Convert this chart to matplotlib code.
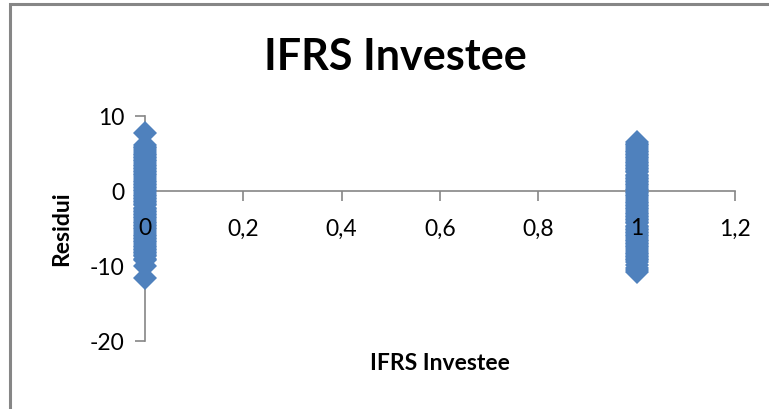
import matplotlib
matplotlib.use("Agg")
import matplotlib.pyplot as plt
from matplotlib.patches import Rectangle

# dati
ifrs_x = [0, 1]
res0 = [7.7, 6.1, 5.9, 5.7, 5.5, 5.2, 5.0, 4.8, 4.6, 4.4, 4.2, 4.0, 3.8, 3.5,
        3.3, 3.1, 2.9, 2.7, 2.5, 2.3, 2.1, 1.9, 1.6, 1.4, 1.2, 1.0, 0.8, 0.6,
        0.4, 0.2, 0.0, -0.3, -0.5, -0.7, -0.9, -1.1, -1.3, -1.5, -1.7, -1.9,
        -2.2, -2.4, -2.6, -2.8, -3.0, -3.2, -3.4, -3.6, -3.9, -4.1, -4.3,
        -4.5, -4.7, -4.9, -5.1, -5.3, -5.6, -5.8, -6.0, -6.2, -6.4, -6.6,
        -6.8, -7.0, -7.3, -7.5, -7.7, -7.9, -8.1, -8.3, -8.5, -8.7, -9.0,
        -9.2, -10.0, -11.6]
res1 = [6.5, 6.3, 6.1, 5.9, 5.6, 5.4, 5.2, 5.0, 4.8, 4.6, 4.4, 4.2, 3.9, 3.7,
        3.5, 3.3, 3.1, 2.9, 2.7, 2.5, 2.2, 2.0, 1.8, 1.6, 1.4, 1.2, 1.0, 0.8,
        0.5, 0.3, 0.1, -0.1, -0.3, -0.5, -0.7, -0.9, -1.2, -1.4, -1.6, -1.8,
        -2.0, -2.2, -2.4, -2.6, -2.9, -3.1, -3.3, -3.5, -3.7, -3.9, -4.1,
        -4.3, -4.6, -4.8, -5.0, -5.2, -5.4, -5.6, -5.8, -6.0, -6.3, -6.5,
        -6.7, -6.9, -7.1, -7.3, -7.5, -7.7, -8.0, -8.2, -8.4, -8.6, -8.8,
        -9.0, -9.2, -9.5, -9.8, -10.2, -10.5, -10.8]
xticks = [0, 0.2, 0.4, 0.6, 0.8, 1.0, 1.2]
xticklabels = ['0', '0,2', '0,4', '0,6', '0,8', '1', '1,2']
yticks = [-20, -10, 0, 10]
yticklabels = ['-20', '-10', '0', '10']

plt.rcParams['font.family'] = ['Lato', 'DejaVu Sans']
grey = '#868686'
blue = '#4F81BD'

W, H = 769, 410
fig = plt.figure(figsize=(W / 100, H / 100), dpi=100)
fig.patch.set_facecolor('white')

# cornice del grafico (bordo grigio)
fig.add_artist(Rectangle((10 / W, -0.1), 1.2, 1.1 - 5 / H, transform=fig.transFigure,
                         fill=False, edgecolor=grey, linewidth=2.2, clip_on=False))

pos = [145 / W, (H - 342) / H, 590 / W, 225 / H]
ax = fig.add_axes(pos)
ax.set_xlim(0, 1.2)
ax.set_ylim(-20, 10)
ax.patch.set_alpha(0)

for s in ['top', 'right']:
    ax.spines[s].set_visible(False)
ax.spines['bottom'].set_position(('data', 0))
for s in ['left', 'bottom']:
    ax.spines[s].set_color(grey)
    ax.spines[s].set_linewidth(1.2)
    ax.spines[s].set_zorder(1)
ax.xaxis.set_zorder(1)
ax.yaxis.set_zorder(1)
ax.set_xticks(xticks)
ax.set_yticks(yticks)
ax.tick_params(axis='both', length=7, width=1.2, color=grey,
               labelbottom=False, labelleft=False)

for xv, vals in zip(ifrs_x, [res0, res1]):
    ax.plot([xv] * len(vals), vals, linestyle='none', marker='D', markersize=11.8,
            markerfacecolor=blue, markeredgewidth=0, clip_on=False, zorder=3)

# etichette sopra i marcatori
ax2 = fig.add_axes(pos)
ax2.set_xlim(0, 1.2)
ax2.set_ylim(-20, 10)
ax2.patch.set_alpha(0)
for s in ax2.spines.values():
    s.set_visible(False)
ax2.spines['bottom'].set_position(('data', 0))
ax2.set_xticks(xticks)
ax2.set_xticklabels(xticklabels)
ax2.set_yticks(yticks)
ax2.set_yticklabels(yticklabels)
ax2.tick_params(axis='both', length=7, color=(0, 0, 0, 0), labelsize=16.5,
                labelcolor='black')
ax2.tick_params(axis='x', pad=12)
ax2.tick_params(axis='y', pad=8)

fig.text(395 / W, 1 - 57 / H, 'IFRS Investee', ha='center', va='center',
         fontsize=31, fontweight='bold')
fig.text(440 / W, 1 - 364 / H, 'IFRS Investee', ha='center', va='center',
         fontsize=16.5, fontweight='bold')
fig.text(62 / W, 1 - 229 / H, 'Residui', ha='center', va='center', rotation=90,
         fontsize=16.5, fontweight='bold')

fig.savefig('out.png', dpi=100)
